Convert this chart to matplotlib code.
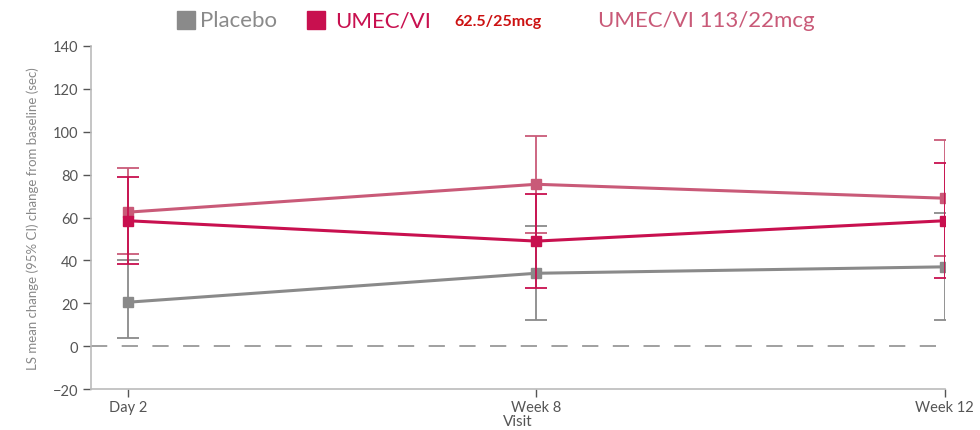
import matplotlib
matplotlib.use("Agg")
import matplotlib.pyplot as plt
import numpy as np

visits = ["Day 2", "Week 8", "Week 12"]

placebo_mean = [20.5, 34, 37]
placebo_lo = [4, 12, 12]
placebo_hi = [40, 56, 62]

umec62_mean = [58.5, 49, 58.5]
umec62_lo = [38.5, 27, 32]
umec62_hi = [79, 71, 85.5]

umec113_mean = [62.5, 75.5, 69]
umec113_lo = [43, 53, 42]
umec113_hi = [83, 98, 96]

c_plac = "#8a8a8a"
c_62 = "#c8104f"
c_113 = "#c95a78"

plt.rcParams['font.family'] = ['Lato', 'DejaVu Sans']

fig = plt.figure(figsize=(9.8, 4.31), dpi=100)
ax = fig.add_axes([0.093, 0.095, 0.871, 0.796])

x = np.arange(len(visits))

def series(mean, lo, hi, color, z):
    mean = np.array(mean)
    err = [mean - np.array(lo), np.array(hi) - mean]
    ax.errorbar(x, mean, yerr=err, color=color, lw=2.2, marker='s', ms=7,
                elinewidth=1.3, capsize=8, capthick=1.3, zorder=z)

series(placebo_mean, placebo_lo, placebo_hi, c_plac, 3)
series(umec113_mean, umec113_lo, umec113_hi, c_113, 4)
series(umec62_mean, umec62_lo, umec62_hi, c_62, 5)

ax.axhline(0, xmin=0, xmax=0.99, color='#999999', lw=1.3, dashes=(9, 8), zorder=1)

ax.set_xlim(-0.09, 2.0)
ax.set_ylim(-20, 140)
ax.set_yticks(np.arange(-20, 141, 20))
ax.set_xticks(x)
ax.set_xticklabels(visits)
for s in ['top', 'right']:
    ax.spines[s].set_visible(False)
for s in ['left', 'bottom']:
    ax.spines[s].set_color('#bbbbbb')
    ax.spines[s].set_linewidth(1.2)
ax.tick_params(colors='#555555', labelsize=10.5, length=6, width=1, direction='out')
ax.tick_params(axis='x', pad=2)
ax.set_xlabel("Visit", fontsize=11, color='#555555', labelpad=0)
ax.set_ylabel("LS mean change (95% CI) change from baseline (sec)", fontsize=9.5,
              color='#888888', labelpad=10)

# legend row built from text pieces and squares
w, h = 18 / 980, 18 / 431
fig.patches.append(plt.Rectangle((0.181, 0.930), w, h, transform=fig.transFigure,
                                 color=c_plac, figure=fig))
fig.text(0.204, 0.951, "Placebo", fontsize=16, color='#8a8a8a', va='center')
fig.patches.append(plt.Rectangle((0.313, 0.930), w, h, transform=fig.transFigure,
                                 color=c_62, figure=fig))
fig.text(0.342, 0.951, "UMEC/VI", fontsize=16, color=c_62, va='center')
fig.text(0.464, 0.948, "62.5/25mcg", fontsize=11.5, color='#cc1111', va='center',
         fontweight='bold')
fig.text(0.61, 0.951, "UMEC/VI 113/22mcg", fontsize=16, color=c_113, va='center')

fig.savefig("out.png", dpi=100)
